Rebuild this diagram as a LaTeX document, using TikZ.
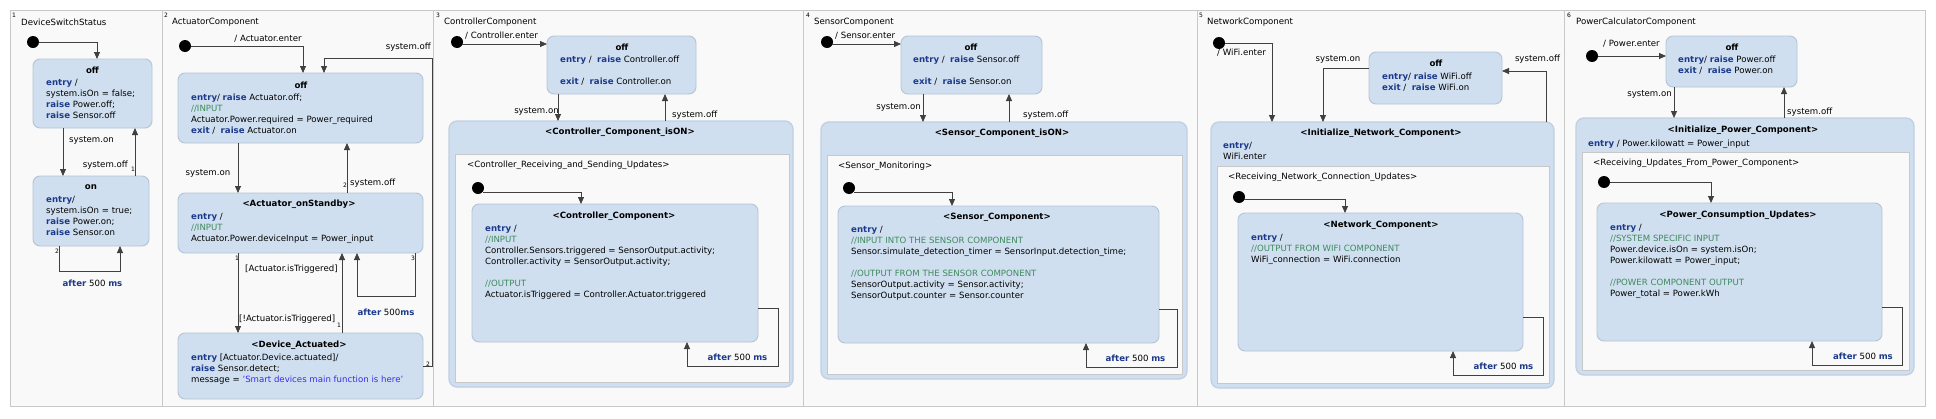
\documentclass[tikz,border=0pt]{standalone}
\usepackage{fontspec}
\setmainfont{DejaVu Sans}
\usetikzlibrary{calc,arrows.meta}
\definecolor{stfill}{HTML}{D0DFEF}
\definecolor{stdraw}{HTML}{B4C4D6}
\definecolor{compdraw}{HTML}{C0D0E2}
\definecolor{kwblue}{HTML}{1C3A8C}
\definecolor{cmgreen}{HTML}{3F8A5F}
\definecolor{strblue}{HTML}{3A2AEE}
\definecolor{panelbg}{HTML}{F9F9F9}
\definecolor{paneldraw}{HTML}{C8C8C8}
\definecolor{linecol}{HTML}{404040}
\newcommand{\ykw}[1]{\textcolor{kwblue}{\bfseries #1}}
\newcommand{\ycm}[1]{\textcolor{cmgreen}{#1}}
\newcommand{\ystr}[1]{\textcolor{strblue}{#1}}
\newcommand{\yfont}{\fontsize{8.6}{11}\selectfont}
\newcommand{\yafter}{\ykw{after} 500 \ykw{ms}}
\tikzset{
 st/.style={draw=stdraw, fill=stfill, rounded corners=7pt, line width=0.9pt, inner sep=0pt, outer sep=0pt, anchor=north west},
 comp/.style={draw=compdraw, fill=stfill, rounded corners=8pt, line width=1.3pt, inner sep=0pt, outer sep=0pt, anchor=north west},
 region/.style={draw=paneldraw, fill=panelbg, line width=0.8pt, inner sep=0pt, outer sep=0pt, anchor=north west},
 initdot/.style={circle, fill=black, minimum size=12pt, inner sep=0pt},
 tr/.style={draw=linecol, line width=0.8pt, -{Triangle[length=7pt,width=6pt]}},
 body/.style={font=\yfont, align=left, anchor=north west, inner sep=0pt, execute at begin node=\strut},
 ttl/.style={font=\yfont\bfseries, inner sep=0pt},
 lbl/.style={font=\yfont, inner sep=0pt},
 prio/.style={font=\fontsize{6}{6}\selectfont, inner sep=0.5pt},
 ptitle/.style={font=\yfont, anchor=west, inner sep=0pt},
}
\begin{document}
\begin{tikzpicture}[x=1pt,y=-1pt]
\useasboundingbox (0,0) rectangle (1936,418);
\fill[white] (0,0) rectangle (1936,418);
% frame and panels
\draw[fill=panelbg, draw=paneldraw, line width=0.9pt] (10.5,10.5) rectangle (1925.5,406.5);
\foreach \xx in {162,433,803,1197,1564} \draw[paneldraw, line width=0.9pt] (\xx,10.5) -- (\xx,406.5);
\node[prio] (n1) at (14,15) {1};
\node[ptitle] (t1) at (21,22) {DeviceSwitchStatus};
\node[prio] (n2) at (166,15) {2};
\node[ptitle] (t2) at (172,22) {ActuatorComponent};
\node[prio] (n3) at (438,15) {3};
\node[ptitle] (t3) at (444,22) {ControllerComponent};
\node[prio] (n4) at (808,15) {4};
\node[ptitle] (t4) at (814,22) {SensorComponent};
\node[prio] (n5) at (1201,15) {5};
\node[ptitle] (t5) at (1207,22) {NetworkComponent};
\node[prio] (n6) at (1569,15) {6};
\node[ptitle] (t6) at (1576,22) {PowerCalculatorComponent};

% ---------------- Panel 1
\node[initdot] (p1i) at (33,42) {};
\node[st, minimum width=119, minimum height=69] (p1off) at (33,59) {};
\node[ttl] (p1offt) at (92.5,70) {off};
\node[body] (p1offb) at (46,79) {\ykw{entry} /\\system.isOn = false;\\\ykw{raise} Power.off;\\\ykw{raise} Sensor.off};
\node[st, minimum width=116, minimum height=70] (p1on) at (33,176) {};
\node[ttl] (p1ont) at (91,187) {on};
\node[body] (p1onb) at (46,196) {\ykw{entry}/\\system.isOn = true;\\\ykw{raise} Power.on;\\\ykw{raise} Sensor.on};
\draw[tr] (p1i) -| ($(p1off.north west)+(64,0)$);
\draw[tr] ($(p1off.south west)+(30,0)$) -- ($(p1on.north west)+(30,0)$);
\node[lbl, anchor=west] (p1l1) at (69,140) {system.on};
\draw[tr] ($(p1on.north west)+(102,0)$) -- ($(p1off.south west)+(102,0)$);
\node[lbl, anchor=east] (p1l2) at (128,165) {system.off};
\node[prio] (p1p1) at (133,169) {1};
\draw[tr] ($(p1on.south west)+(26,0)$) -- ++(0,25) -| ($(p1on.south west)+(87,0)$);
\node[prio] (p1p2) at (57,251) {2};
\node[lbl] (p1l3) at (92.5,283) {\yafter};

% ---------------- Panel 2
\node[initdot] (p2i) at (185,46) {};
\node[st, minimum width=245, minimum height=70] (p2off) at (178,73) {};
\node[ttl] (p2offt) at (301,85) {off};
\node[body] (p2offb) at (191,94) {\ykw{entry}/ \ykw{raise} Actuator.off;\\\ycm{//INPUT}\\Actuator.Power.required = Power\_required\\\ykw{exit} /\ \ \ykw{raise} Actuator.on};
\node[st, minimum width=245, minimum height=60] (p2sb) at (178,193) {};
\node[ttl] (p2sbt) at (299,204) {<Actuator\_onStandby>};
\node[body] (p2sbb) at (191,213) {\ykw{entry} /\\\ycm{//INPUT}\\Actuator.Power.deviceInput = Power\_input};
\node[st, minimum width=245, minimum height=66] (p2da) at (178,333) {};
\node[ttl] (p2dat) at (299,345) {<Device\_Actuated>};
\node[body] (p2dab) at (191,354) {\ykw{entry} [Actuator.Device.actuated]/\\\ykw{raise} Sensor.detect;\\message = \ystr{'Smart devices main function is here'}};
\draw[tr] (p2i) -| ($(p2off.north west)+(125,0)$);
\node[lbl] (p2l0) at (268,39) {/ Actuator.enter};
\draw[tr] ($(p2off.south west)+(60,0)$) -- ($(p2sb.north west)+(60,0)$);
\node[lbl] (p2l1) at (208,173) {system.on};
\draw[tr] ($(p2sb.north west)+(169,0)$) -- ($(p2off.south west)+(169,0)$);
\node[lbl, anchor=west] (p2l2) at (350,183) {system.off};
\node[prio] (p2p2) at (345,185) {2};
\draw[tr] ($(p2sb.south west)+(60,0)$) -- ($(p2da.north west)+(60,0)$);
\node[prio] (p2p1) at (237,258) {1};
\node[lbl, anchor=west] (p2l3) at (245,269) {[Actuator.isTriggered]};
\draw[tr] ($(p2da.north west)+(164,0)$) -- ($(p2sb.south west)+(164,0)$);
\node[lbl, anchor=west] (p2l4) at (239,319) {[!Actuator.isTriggered]};
\node[prio] (p2p3) at (339,325) {1};
\draw[tr] ($(p2sb.south west)+(237,0)$) -- ++(0,43) -| ($(p2sb.south west)+(179,0)$);
\node[prio] (p2p4) at (413,258) {3};
\node[lbl] (p2l5) at (386,312) {\ykw{after} 500\ykw{ms}};
\draw[tr] ($(p2da.north east)+(0,33)$) -- ++(9.5,0) |- ($(p2off.north west)+(146,-15)$) -- ($(p2off.north west)+(146,0)$);
\node[lbl, anchor=east] (p2l6) at (431,47) {system.off};
\node[prio] (p2p5) at (428,364) {2};

% ---------------- Panel 3
\node[initdot] (p3i) at (457,42) {};
\node[st, minimum width=149, minimum height=58] (p3off) at (547,36) {};
\node[ttl] (p3offt) at (622,47) {off};
\node[body] (p3offb) at (560,56) {\ykw{entry}\ /\ \ \ykw{raise} Controller.off\\[11pt]\ykw{exit} /\ \ \ykw{raise} Controller.on};
\draw[tr] ($(p3i.center)+(5,2)$) -- ($(p3off.north west)+(0,8)$);
\node[lbl, anchor=west] (p3l0) at (465,36) {/ Controller.enter};
\node[comp, minimum width=344, minimum height=266] (p3on) at (449,121) {};
\node[ttl] (p3ont) at (620,132) {<Controller\_Component\_isON>};
\node[region, minimum width=334, minimum height=228] (p3r) at (455,154) {};
\node[lbl, anchor=west] (p3rl) at (467,165) {<Controller\_Receiving\_and\_Sending\_Updates>};
\node[initdot] (p3ii) at (478,188) {};
\node[st, minimum width=286, minimum height=138] (p3cc) at (472,204) {};
\node[ttl] (p3cct) at (614,216) {<Controller\_Component>};
\node[body] (p3ccb) at (485,225) {\ykw{entry} /\\\ycm{//INPUT}\\Controller.Sensors.triggered = SensorOutput.activity;\\Controller.activity = SensorOutput.activity;\\[11pt]\ycm{//OUTPUT}\\Actuator.isTriggered = Controller.Actuator.triggered};
\draw[tr] ($(p3ii.center)+(5,4)$) -| ($(p3cc.north west)+(109,0)$);
\draw[tr] ($(p3cc.north east)+(0,104)$) -- ++(20,0) -- ++(0,58) -| ($(p3cc.south west)+(215,0)$);
\node[lbl] (p3l3) at (737.5,357) {\yafter};
\draw[tr] ($(p3off.south west)+(11,0)$) -- ($(p3on.north west)+(109,0)$);
\node[lbl, anchor=east] (p3l1) at (559,111) {system.on};
\draw[tr] ($(p3on.north west)+(216,0)$) -- ($(p3off.south west)+(118,0)$);
\node[lbl, anchor=west] (p3l2) at (672,115) {system.off};

% ---------------- Panel 4
\node[initdot] (p4i) at (827,42) {};
\node[st, minimum width=141, minimum height=58] (p4off) at (901,36) {};
\node[ttl] (p4offt) at (971,47) {off};
\node[body] (p4offb) at (913,56) {\ykw{entry}\ /\ \ \ykw{raise} Sensor.off\\[11pt]\ykw{exit} /\ \ \ykw{raise} Sensor.on};
\draw[tr] ($(p4i.center)+(5,2)$) -- ($(p4off.north west)+(0,8)$);
\node[lbl, anchor=west] (p4l0) at (835,36) {/ Sensor.enter};
\node[comp, minimum width=366, minimum height=257] (p4on) at (821,122) {};
\node[ttl] (p4ont) at (1002,133) {<Sensor\_Component\_isON>};
\node[region, minimum width=355, minimum height=219] (p4r) at (827,155) {};
\node[lbl, anchor=west] (p4rl) at (838,166) {<Sensor\_Monitoring>};
\node[initdot] (p4ii) at (849,188) {};
\node[st, minimum width=321, minimum height=137] (p4sc) at (838,206) {};
\node[ttl] (p4sct) at (997,217) {<Sensor\_Component>};
\node[body] (p4scb) at (851,226) {\ykw{entry} /\\\ycm{//INPUT INTO THE SENSOR COMPONENT}\\Sensor.simulate\_detection\_timer = SensorInput.detection\_time;\\[11pt]\ycm{//OUTPUT FROM THE SENSOR COMPONENT}\\SensorOutput.activity = Sensor.activity;\\SensorOutput.counter = Sensor.counter};
\draw[tr] ($(p4ii.center)+(5,4)$) -| ($(p4sc.north west)+(114,0)$);
\draw[tr] ($(p4sc.north east)+(0,103)$) -- ++(18,0) -- ++(0,58) -| ($(p4sc.south west)+(248,0)$);
\node[lbl] (p4l3) at (1135.5,358) {\yafter};
\draw[tr] ($(p4off.south west)+(22,0)$) -- ($(p4on.north west)+(102,0)$);
\node[lbl, anchor=east] (p4l1) at (921,107) {system.on};
\draw[tr] ($(p4on.north west)+(188,0)$) -- ($(p4off.south west)+(108,0)$);
\node[lbl, anchor=west] (p4l2) at (1023,115) {system.off};

% ---------------- Panel 5
\node[initdot] (p5i) at (1219,43) {};
\node[st, minimum width=133, minimum height=52] (p5off) at (1369,52) {};
\node[ttl] (p5offt) at (1436,63) {off};
\node[body] (p5offb) at (1382,73) {\ykw{entry}/ \ykw{raise} WiFi.off\\\ykw{exit} /\ \ \ykw{raise} WiFi.on};
\node[comp, minimum width=343, minimum height=266] (p5init) at (1211,122) {};
\node[ttl] (p5initt) at (1381,133) {<Initialize\_Network\_Component>};
\node[body] (p5initb) at (1223,142) {\ykw{entry}/\\WiFi.enter};
\node[region, minimum width=332, minimum height=217] (p5r) at (1217,166) {};
\node[lbl, anchor=west] (p5rl) at (1228,177) {<Receiving\_Network\_Connection\_Updates>};
\node[initdot] (p5ii) at (1239,197) {};
\node[st, minimum width=285, minimum height=138] (p5nc) at (1238,213) {};
\node[ttl] (p5nct) at (1381,225) {<Network\_Component>};
\node[body] (p5ncb) at (1251,234) {\ykw{entry} /\\\ycm{//OUTPUT FROM WIFI COMPONENT}\\WiFi\_connection = WiFi.connection};
\draw[tr] (p5i) -| ($(p5init.north west)+(61,0)$);
\node[lbl, anchor=west] (p5l0) at (1217,53) {/ WiFi.enter};
\draw[tr] ($(p5off.north west)+(0,16)$) -| ($(p5init.north west)+(112,0)$);
\node[lbl] (p5l1) at (1338,59) {system.on};
\draw[tr] ($(p5init.north west)+(335,0)$) |- ($(p5off.north east)+(0,19)$);
\node[lbl] (p5l2) at (1537.5,59) {system.off};
\draw[tr] ($(p5ii.center)+(5,2)$) -| ($(p5nc.north west)+(107,0)$);
\draw[tr] ($(p5nc.north east)+(0,104)$) -- ++(20,0) -- ++(0,58) -| ($(p5nc.south west)+(215,0)$);
\node[lbl] (p5l3) at (1503.5,366) {\yafter};

% ---------------- Panel 6
\node[initdot] (p6i) at (1592,56) {};
\node[st, minimum width=131, minimum height=51] (p6off) at (1666,36) {};
\node[ttl] (p6offt) at (1732,47) {off};
\node[body] (p6offb) at (1678,56) {\ykw{entry}/ \ykw{raise} Power.off\\\ykw{exit} /\ \ \ykw{raise} Power.on};
\draw[tr] (p6i) -- (p6i -| p6off.west);
\node[lbl, anchor=west] (p6l0) at (1603,44) {/ Power.enter};
\node[comp, minimum width=338, minimum height=257] (p6init) at (1576,118) {};
\node[ttl] (p6initt) at (1743,130) {<Initialize\_Power\_Component>};
\node[lbl, anchor=west] (p6initb) at (1588,144) {\ykw{entry} / Power.kilowatt = Power\_input};
\node[region, minimum width=327, minimum height=218] (p6r) at (1582,152) {};
\node[lbl, anchor=west] (p6rl) at (1593,163) {<Receiving\_Updates\_From\_Power\_Component>};
\node[initdot] (p6ii) at (1604,182) {};
\node[st, minimum width=285, minimum height=138] (p6pc) at (1597,203) {};
\node[ttl] (p6pct) at (1738,215) {<Power\_Consumption\_Updates>};
\node[body] (p6pcb) at (1610,224) {\ykw{entry} /\\\ycm{//SYSTEM SPECIFIC INPUT}\\Power.device.isOn = system.isOn;\\Power.kilowatt = Power\_input;\\[11pt]\ycm{//POWER COMPONENT OUTPUT}\\Power\_total = Power.kWh};
\draw[tr] (p6ii) -| ($(p6pc.north west)+(114,0)$);
\draw[tr] ($(p6pc.north east)+(0,104)$) -- ++(20,0) -- ++(0,58) -| ($(p6pc.south west)+(215,0)$);
\node[lbl] (p6l3) at (1863,356) {\yafter};
\draw[tr] ($(p6off.south west)+(8,0)$) -- ($(p6init.north west)+(98,0)$);
\node[lbl, anchor=east] (p6l1) at (1672,94) {system.on};
\draw[tr] ($(p6init.north west)+(208,0)$) -- ($(p6off.south west)+(118,0)$);
\node[lbl, anchor=west] (p6l2) at (1787,112) {system.off};
\end{tikzpicture}
\end{document}
